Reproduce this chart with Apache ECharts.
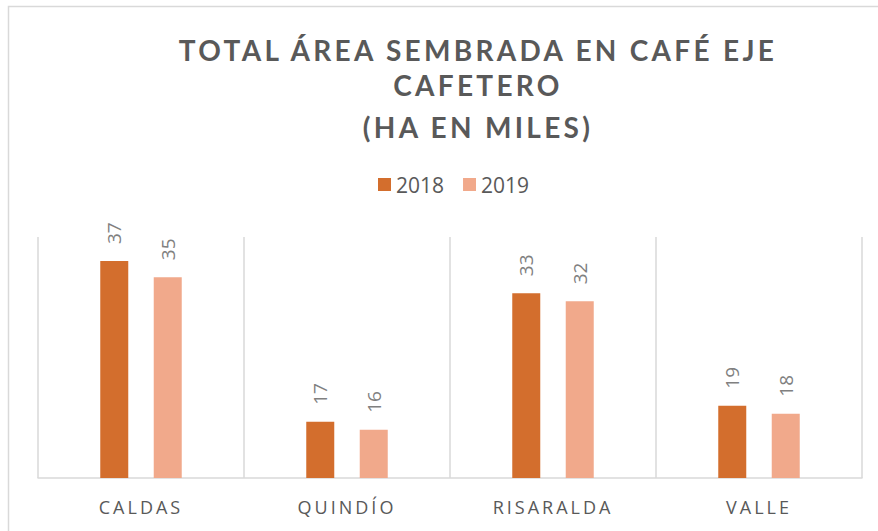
<!DOCTYPE html>
<html>
<head>
<meta charset="utf-8">
<script src="https://cdn.jsdelivr.net/npm/echarts@6/dist/echarts.min.js"></script>
<style>
  html, body { margin: 0; padding: 0; background: #ffffff; }
  #chart { width: 878px; height: 531px; }
  #chart text[style*="bold"] { letter-spacing: 3.3px; }
  #chart text[style*="18px"] { letter-spacing: 3px; }
</style>
</head>
<body>
<div id="chart"></div>
<script>
// ---- data ----
const categories = ['CALDAS', 'QUINDÍO', 'RISARALDA', 'VALLE'];
const seriesNames = ['2018', '2019'];
const values2018 = [37, 17, 33, 19];
const values2019 = [35, 16, 32, 18];
const titleText = 'TOTAL ÁREA SEMBRADA EN CAFÉ EJE\nCAFETERO';
const subtitleText = '(HA EN MILES)';
const yMin = 10;
const yMax = 40;

// ---- styling ----
const colors = ['#D36E2D', '#F1A98B'];
const font = 'Open Sans';
const titleFont = 'Lato';
const gridColor = '#D9D9D9';

const chart = echarts.init(document.getElementById('chart'), null, { renderer: 'svg' });

const labelOpt = {
  show: true,
  position: 'top',
  rotate: 90,
  align: 'left',
  verticalAlign: 'middle',
  distance: 17,
  fontFamily: font,
  fontSize: 19,
  color: '#808080'
};

chart.setOption({
  backgroundColor: '#ffffff',
  animation: false,
  color: colors,
  graphic: [{
    type: 'rect',
    shape: { x: 8.5, y: 6.5, width: 900, height: 600 },
    style: { fill: 'none', stroke: gridColor, lineWidth: 1.5 },
    silent: true
  }],
  title: {
    text: titleText,
    subtext: subtitleText,
    left: 473,
    top: 27,
    textAlign: 'center',
    itemGap: 7,
    textStyle: { fontFamily: titleFont, fontWeight: 'bold', fontSize: 28, lineHeight: 35, color: '#595959' },
    subtextStyle: { fontFamily: titleFont, fontWeight: 'bold', fontSize: 28, lineHeight: 35, color: '#595959' }
  },
  legend: {
    data: seriesNames,
    left: 378,
    top: 174,
    padding: 0,
    itemWidth: 13,
    itemHeight: 13,
    itemGap: 19,
    icon: 'rect',
    textStyle: { fontFamily: font, fontSize: 21, color: '#595959' }
  },
  grid: { left: 38, right: 16, top: 237, bottom: 53, containLabel: false },
  xAxis: {
    type: 'category',
    data: categories,
    axisLine: { show: true, lineStyle: { color: gridColor, width: 1.5 } },
    axisTick: { show: false },
    splitLine: { show: true, lineStyle: { color: gridColor, width: 1.5 } },
    axisLabel: { fontFamily: font, fontSize: 18, color: '#595959', margin: 20 }
  },
  yAxis: {
    type: 'value',
    min: yMin,
    max: yMax,
    show: false,
    splitLine: { show: false }
  },
  series: [
    { name: seriesNames[0], type: 'bar', data: values2018, barWidth: 28, barGap: '91%', label: labelOpt },
    { name: seriesNames[1], type: 'bar', data: values2019, barWidth: 28, barGap: '91%', label: labelOpt }
  ]
});
</script>
</body>
</html>
